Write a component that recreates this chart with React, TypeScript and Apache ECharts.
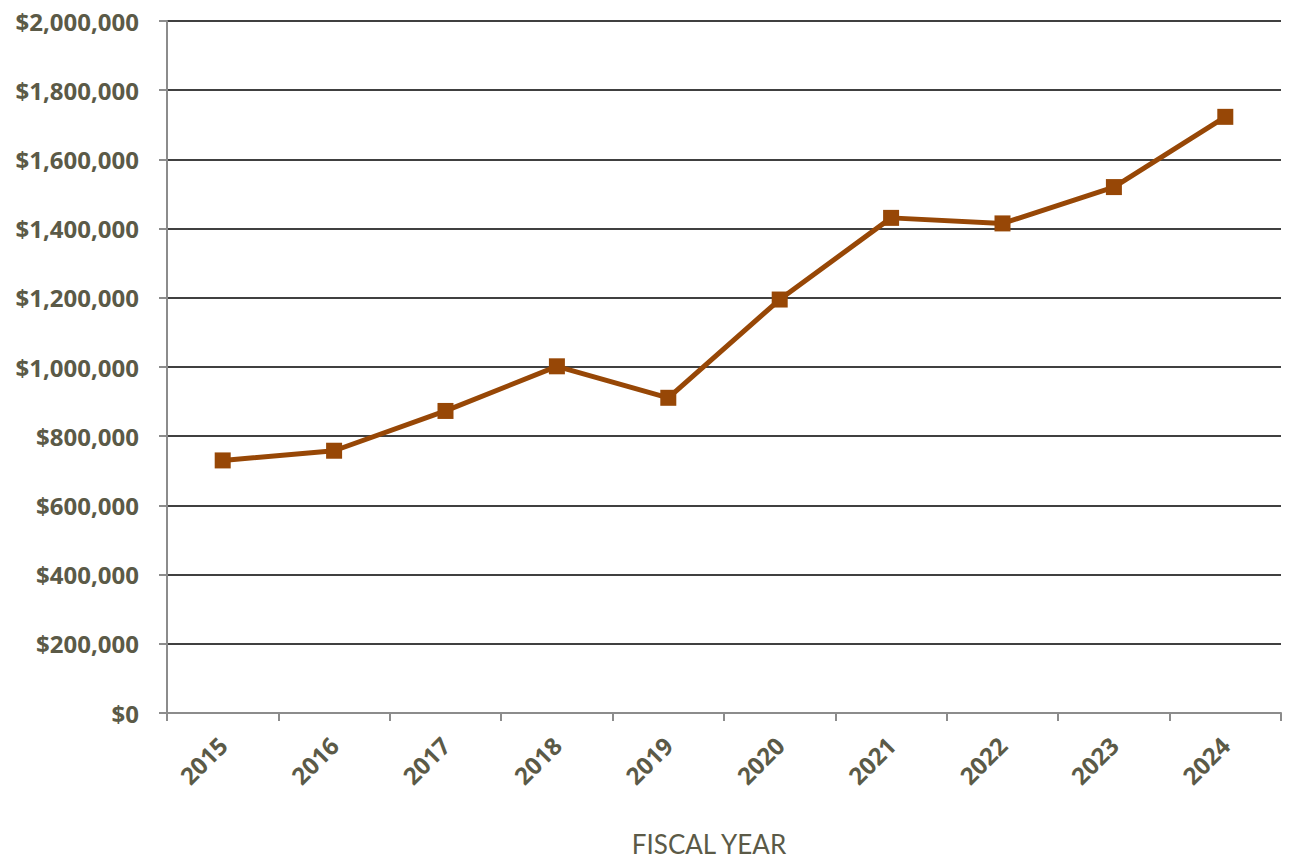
import React, { useEffect, useRef } from "react";
import * as echarts from "echarts";

const years = ["2015", "2016", "2017", "2018", "2019", "2020", "2021", "2022", "2023", "2024"];
const values = [730000, 758000, 873000, 1002000, 911000, 1195000, 1431000, 1415000, 1520000, 1723000];

const labelColor = "#5b5a47";
const lineColor = "#974706";

export default function App() {
  const ref = useRef<HTMLDivElement>(null);
  useEffect(() => {
    const chart = echarts.init(ref.current!, undefined, { renderer: "svg" });
    chart.setOption({
      animation: false,
      grid: { left: 167, right: 10, top: 21, bottom: 146, containLabel: false, outerBoundsMode: "none" },
      xAxis: {
        type: "category",
        data: years,
        boundaryGap: true,
        axisLine: { lineStyle: { color: "#8c8c8c", width: 2 } },
        axisTick: { show: true, length: 8, lineStyle: { color: "#8c8c8c", width: 2 } },
        axisLabel: {
          rotate: 45,
          margin: 28,
          color: labelColor,
          fontSize: 24,
          fontWeight: "bold",
          fontFamily: "Open Sans",
        },
      },
      yAxis: {
        type: "value",
        min: 0,
        max: 2000000,
        interval: 200000,
        axisLine: { show: true, lineStyle: { color: "#8c8c8c", width: 2 } },
        axisTick: { show: true, length: 8, lineStyle: { color: "#8c8c8c", width: 2 } },
        splitLine: { lineStyle: { color: "#000000", width: 1.5 } },
        axisLabel: {
          margin: 28,
          color: labelColor,
          fontSize: 24,
          fontWeight: "bold",
          fontFamily: "Open Sans",
          formatter: (v: number) => "$" + v.toLocaleString("en-US"),
        },
      },
      graphic: [
        {
          type: "text",
          x: 709,
          y: 844,
          style: {
            text: "FISCAL YEAR",
            fill: labelColor,
            fontSize: 26,
            fontFamily: "Lato",
            align: "center",
            verticalAlign: "middle",
          },
        },
      ],
      series: [
        {
          type: "line",
          data: values,
          symbol: "rect",
          symbolSize: 16,
          lineStyle: { color: lineColor, width: 5 },
          itemStyle: { color: lineColor },
        },
      ],
    });
    return () => chart.dispose();
  }, []);
  return (
    <div
      ref={ref}
      style={{ position: "fixed", left: 0, top: 0, width: 1291, height: 859, background: "#fff" }}
    />
  );
}
